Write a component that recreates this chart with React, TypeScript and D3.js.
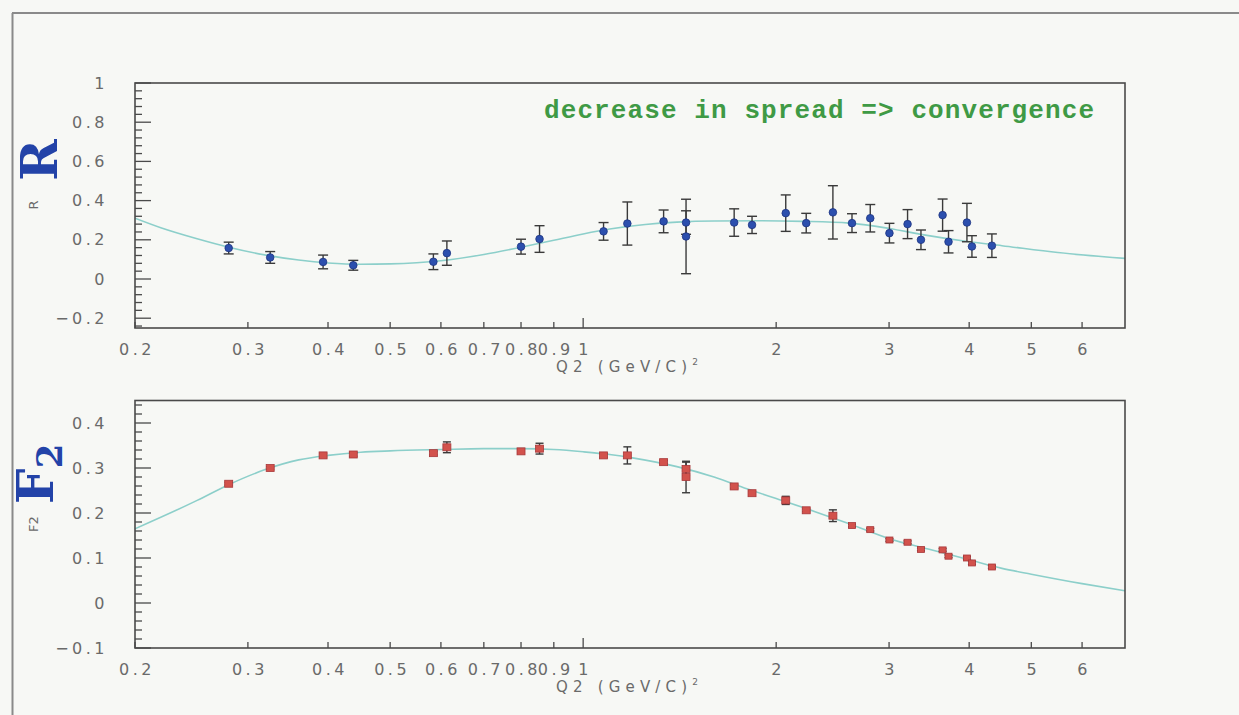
import React from 'react';
import * as d3 from 'd3';

// Q2 values (GeV/c)^2 shared by both measurements
const q2 = [0.28, 0.325, 0.393, 0.438, 0.584, 0.613, 0.8, 0.855, 1.076, 1.172, 1.335, 1.447, 1.447, 1.72, 1.834, 2.07, 2.228, 2.452, 2.626, 2.804, 3.004, 3.206, 3.364, 3.636, 3.714, 3.968, 4.04, 4.34];

// R = sigma_L / sigma_T with errors
const rVal = [0.158, 0.11, 0.087, 0.07, 0.088, 0.132, 0.165, 0.204, 0.243, 0.283, 0.294, 0.288, 0.217, 0.288, 0.276, 0.336, 0.285, 0.34, 0.285, 0.31, 0.234, 0.28, 0.2, 0.326, 0.19, 0.288, 0.166, 0.17];
const rErr = [0.03, 0.03, 0.035, 0.025, 0.04, 0.062, 0.038, 0.068, 0.045, 0.11, 0.058, 0.06, 0.19, 0.07, 0.044, 0.093, 0.05, 0.136, 0.048, 0.07, 0.05, 0.074, 0.05, 0.082, 0.057, 0.098, 0.055, 0.06];

// F2 structure function with errors
const f2Val = [0.265, 0.3, 0.328, 0.33, 0.333, 0.346, 0.337, 0.343, 0.328, 0.328, 0.313, 0.298, 0.28, 0.259, 0.244, 0.228, 0.206, 0.194, 0.172, 0.163, 0.14, 0.135, 0.119, 0.118, 0.104, 0.1, 0.089, 0.08];
const f2Err = [0.003, 0.003, 0.004, 0.004, 0.004, 0.012, 0.004, 0.012, 0.004, 0.019, 0.004, 0.015, 0.035, 0.004, 0.004, 0.009, 0.003, 0.013, 0.003, 0.003, 0.003, 0.003, 0.003, 0.003, 0.003, 0.003, 0.003, 0.003];

// global fit curves
const rFitQ2 = [0.2, 0.22, 0.25, 0.28, 0.32, 0.36, 0.4, 0.45, 0.5, 0.55, 0.6, 0.7, 0.8, 0.9, 1.0, 1.1, 1.25, 1.4, 1.6, 1.9, 2.2, 2.6, 3.0, 3.4, 4.0, 4.5, 5.5, 7.0];
const rFit = [0.31, 0.26, 0.205, 0.162, 0.122, 0.097, 0.082, 0.075, 0.077, 0.083, 0.093, 0.125, 0.162, 0.198, 0.23, 0.255, 0.278, 0.29, 0.296, 0.297, 0.294, 0.285, 0.258, 0.225, 0.19, 0.17, 0.135, 0.105];
const f2FitQ2 = [0.2, 0.25, 0.28, 0.32, 0.36, 0.4, 0.45, 0.5, 0.6, 0.7, 0.8, 0.9, 1.0, 1.1, 1.2, 1.4, 1.6, 1.8, 2.0, 2.3, 2.6, 3.0, 3.5, 4.0, 4.5, 5.0, 6.0, 7.0];
const f2Fit = [0.165, 0.228, 0.263, 0.297, 0.318, 0.328, 0.335, 0.338, 0.341, 0.343, 0.343, 0.341, 0.336, 0.33, 0.322, 0.303, 0.28, 0.254, 0.232, 0.203, 0.176, 0.143, 0.118, 0.096, 0.077, 0.064, 0.043, 0.027];

// axis ticks and labels
const xTicks = [0.2, 0.3, 0.4, 0.5, 0.6, 0.7, 0.8, 0.9, 1, 2, 3, 4, 5, 6];
const xLabels = ['0.2', '0.3', '0.4', '0.5', '0.6', '0.7', '0.8', '0.9', '1', '2', '3', '4', '5', '6'];
const rTicks = [-0.2, 0, 0.2, 0.4, 0.6, 0.8, 1];
const rLabels = ['\u22120.2', '0', '0.2', '0.4', '0.6', '0.8', '1'];
const f2Ticks = [-0.1, 0, 0.1, 0.2, 0.3, 0.4];
const f2Labels = ['\u22120.1', '0', '0.1', '0.2', '0.3', '0.4'];
const rMinorStep = 0.04;
const f2MinorStep = 0.02;

const LABEL_FONT = '"DejaVu Sans", sans-serif';
const AXIS_COLOR = '#4a4a4a';
const TEXT_COLOR = '#6a6a6a';
const FIT_COLOR = '#8ccfca';

type PanelProps = {
  top: number;
  bottom: number;
  domain: [number, number];
  ticks: number[];
  labels: string[];
  minorStep: number;
  values: number[];
  errors: number[];
  fitX: number[];
  fitY: number[];
  kind: 'R' | 'F2';
};

const X_LEFT = 135;
const X_RIGHT = 1125;

function Panel(p: PanelProps) {
  const x = d3.scaleLog().domain([0.2, 7]).range([X_LEFT, X_RIGHT]);
  const y = d3.scaleLinear().domain(p.domain).range([p.bottom, p.top]);
  const minor = d3
    .range(Math.ceil(p.domain[0] / p.minorStep - 1e-6), Math.floor(p.domain[1] / p.minorStep + 1e-6) + 1)
    .map((k) => k * p.minorStep);
  const isMajor = (v: number) => p.ticks.some((t) => Math.abs(t - v) < 1e-6);
  const line = d3
    .line<[number, number]>()
    .x((d) => x(d[0]))
    .y((d) => y(d[1]))
    .curve(d3.curveMonotoneX);
  const fitPts = p.fitX.map((v, i) => [v, p.fitY[i]] as [number, number]);
  const capW = p.kind === 'R' ? 5 : 4;

  return (
    <g>
      <defs>
        <clipPath id={`clip-${p.kind}`}>
          <rect x={X_LEFT} y={p.top} width={X_RIGHT - X_LEFT} height={p.bottom - p.top} />
        </clipPath>
      </defs>
      {/* fit curve */}
      <path d={line(fitPts) || ''} fill="none" stroke={FIT_COLOR} strokeWidth={1.6} clipPath={`url(#clip-${p.kind})`} />
      {/* error bars */}
      {q2.map((q, i) => {
        const cx = x(q);
        const y1 = y(p.values[i] + p.errors[i]);
        const y2 = y(p.values[i] - p.errors[i]);
        return (
          <g key={`e${i}`} stroke="#3a3a3a" strokeWidth={1.4}>
            <line x1={cx} x2={cx} y1={y1} y2={y2} />
            <line x1={cx - capW} x2={cx + capW} y1={y1} y2={y1} />
            <line x1={cx - capW} x2={cx + capW} y1={y2} y2={y2} />
          </g>
        );
      })}
      {/* markers */}
      {q2.map((q, i) => {
        const cx = x(q);
        const cy = y(p.values[i]);
        if (p.kind === 'R') {
          return <circle key={`m${i}`} cx={cx} cy={cy} r={3.8} fill="#2c4fae" stroke="#1d3480" strokeWidth={0.8} />;
        }
        const s = q < 2.5 ? 8 : 7;
        return (
          <rect key={`m${i}`} x={cx - s / 2} y={cy - (s - 1) / 2} width={s} height={s - 1} fill="#d2524c" stroke="#a8383a" strokeWidth={0.8} />
        );
      })}
      {/* frame */}
      <rect x={X_LEFT} y={p.top} width={X_RIGHT - X_LEFT} height={p.bottom - p.top} fill="none" stroke={AXIS_COLOR} strokeWidth={1.6} />
      {/* y ticks */}
      {minor.map((v, i) => (
        <line key={`yt${i}`} x1={X_LEFT} x2={X_LEFT + (isMajor(v) ? 16 : 7)} y1={y(v)} y2={y(v)} stroke={AXIS_COLOR} strokeWidth={1.3} />
      ))}
      {p.ticks.map((t, i) => (
        <text key={`yl${i}`} x={108} y={y(t)} textAnchor="end" dominantBaseline="central" fontFamily={LABEL_FONT} fontSize={16} letterSpacing={3.5} fill={TEXT_COLOR}>
          {p.labels[i]}
        </text>
      ))}
      {/* x ticks */}
      {xTicks.map((t, i) => (
        <line key={`xt${i}`} x1={x(t)} x2={x(t)} y1={p.bottom} y2={p.bottom - (t === 1 ? 10 : 6)} stroke={AXIS_COLOR} strokeWidth={1.3} />
      ))}
      {xTicks.map((t, i) => (
        <text key={`xl${i}`} x={x(t) + 2} y={p.bottom + 27} textAnchor="middle" fontFamily={LABEL_FONT} fontSize={16} letterSpacing={3.5} fill={TEXT_COLOR}>
          {xLabels[i]}
        </text>
      ))}
      <text x={556} y={p.bottom + 44} fontFamily={LABEL_FONT} fontSize={15} textLength={142} lengthAdjust="spacing" fill={TEXT_COLOR}>
        Q2 (GeV/C)
        <tspan fontSize={9} dy={-7}>2</tspan>
      </text>
    </g>
  );
}

export default function App() {
  return (
    <svg width={1239} height={715} style={{ position: 'absolute', left: 0, top: 0, display: 'block' }}>
      <rect width={1239} height={715} fill="#f7f8f5" />
      {/* outer page frame */}
      <line x1={12} x2={1239} y1={13} y2={13} stroke="#8a8a8a" strokeWidth={2} />
      <line x1={12.5} x2={12.5} y1={13} y2={715} stroke="#8a8a8a" strokeWidth={2} />

      <Panel top={83} bottom={328} domain={[-0.25, 1]} ticks={rTicks} labels={rLabels} minorStep={rMinorStep} values={rVal} errors={rErr} fitX={rFitQ2} fitY={rFit} kind="R" />
      <Panel top={400.5} bottom={648} domain={[-0.1, 0.45]} ticks={f2Ticks} labels={f2Labels} minorStep={f2MinorStep} values={f2Val} errors={f2Err} fitX={f2FitQ2} fitY={f2Fit} kind="F2" />

      {/* annotation */}
      <text x={544} y={118} fontFamily='"Liberation Mono", "DejaVu Sans Mono", monospace' fontWeight="bold" fontSize={26} textLength={550} lengthAdjust="spacing" fill="#3f9a45">
        decrease in spread =&gt; convergence
      </text>

      {/* panel titles */}
      <text transform="translate(57,160) rotate(-90)" textAnchor="middle" fontFamily='"DejaVu Serif", serif' fontWeight="bold" fontSize={50} fill="#2343a8">
        R
      </text>
      <text transform="translate(38,205) rotate(-90)" textAnchor="middle" fontFamily={LABEL_FONT} fontSize={13} fill={TEXT_COLOR}>
        R
      </text>
      <text transform="translate(53,504) rotate(-90)" textAnchor="start" fontFamily='"DejaVu Serif", serif' fontWeight="bold" fontSize={50} fill="#2343a8">
        F<tspan fontSize={36} dy={9}>2</tspan>
      </text>
      <text transform="translate(38,524) rotate(-90)" textAnchor="middle" fontFamily={LABEL_FONT} fontSize={13} fill={TEXT_COLOR}>
        F2
      </text>
    </svg>
  );
}
